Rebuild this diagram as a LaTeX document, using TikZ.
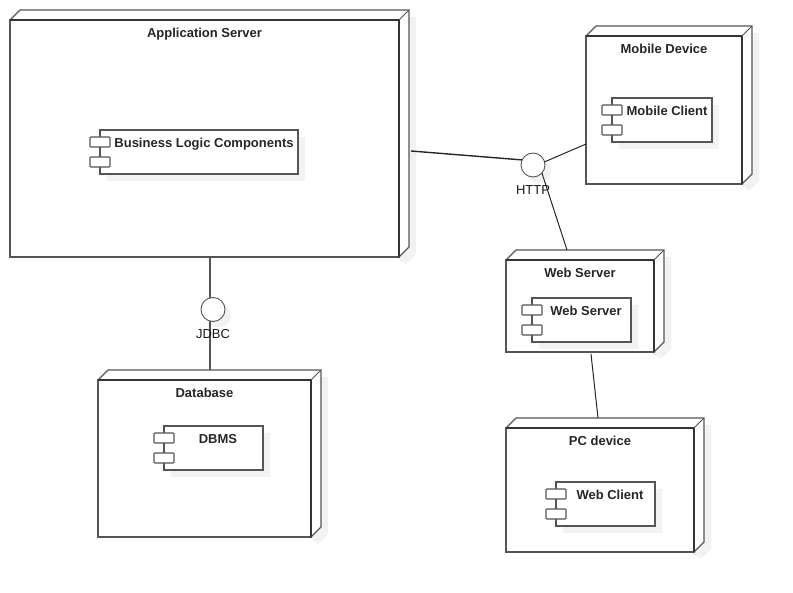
\documentclass[tikz,border=0pt]{standalone}
\usepackage{fontspec}
\setmainfont{Liberation Sans}
\usetikzlibrary{positioning}
\usetikzlibrary{calc}
\definecolor{shadowgray}{HTML}{F2F2F2}
\definecolor{linegray}{HTML}{555555}
\tikzset{
 edge/.style={draw=linegray, line width=1.2pt},
 conn/.style={draw=black!85, line width=1pt},
 title/.style={font=\bfseries\fontsize{13}{15}\selectfont, text=black!85, inner sep=0pt, anchor=base},
 plain/.style={font=\fontsize{13}{15}\selectfont, text=black!90, inner sep=0pt, anchor=base},
 devbox/.style={edge, fill=white, inner sep=0pt, outer sep=0pt},
 iface/.style={circle, draw=linegray, line width=0.9pt, fill=white, minimum size=24pt, inner sep=0pt, outer sep=0pt},
}
\begin{document}
\begin{tikzpicture}[x=1pt, y=-1pt]
 \useasboundingbox (0,0) rectangle (793,593);

 %devices
 \foreach \xa/\ya/\xb/\yb/\name/\label in {10/20/399/257/appsrv/Application Server, 586/36/742/184/mobile/Mobile Device, 506/260/654/352/websrv/Web Server, 98/380/311/537/database/Database, 506/428/694/552/pcdevice/PC device} {
   \fill[shadowgray] (\xa+7,\ya+7) -- (\xa+17,\ya-3) -- (\xb+17,\ya-3) -- (\xb+17,\yb-3) -- (\xb+7,\yb+7) -- cycle;
   \draw[edge, fill=white] (\xa,\ya) -- (\xa+10,\ya-10) -- (\xb+10,\ya-10) -- (\xb+10,\yb-10) -- (\xb,\yb) -- cycle;
   \draw[edge, line width=1pt] (\xb,\ya) -- (\xb+10,\ya-10);
   \node[devbox, draw, minimum width=\xb-\xa, minimum height=\yb-\ya] (\name) at ({(\xa+\xb)/2},{(\ya+\yb)/2}) {};
   \draw[draw=black!80, line width=1.4pt] (\name.north west) -- (\name.north east);
   \draw[draw=black!80, line width=1.4pt] (\name.north east) -- (\name.south east);
   \node[title] (\name-title) at ({(\xa+\xb)/2},\ya+18) {\label};
 }

 %components
 \foreach \xa/\ya/\xb/\tx/\name/\label in {100/130/298/204/blc/Business Logic Components, 612/98/712/667/mclient/Mobile Client, 532/298/631/586/wsrv/Web Server, 164/426/263/218/dbms/DBMS, 556/482/655/610/wclient/Web Client} {
   \fill[shadowgray] (\xa+7,\ya+7) rectangle (\xb+7,\ya+51);
   \node[devbox, draw, minimum width=\xb-\xa, minimum height=44] (\name) at ({(\xa+\xb)/2},\ya+22) {};
   \draw[edge, fill=white, rounded corners=1] (\xa-10,\ya+7) rectangle (\xa+10,\ya+17);
   \draw[edge, fill=white, rounded corners=1] (\xa-10,\ya+27) rectangle (\xa+10,\ya+37);
   \node[title] (\name-title) at (\tx,\ya+18) {\label};
 }

 %interfaces
 \foreach \cx/\cy/\name in {533/165/http, 213/309.5/jdbc} {
   \fill[shadowgray] (\cx+6,\cy+6) circle (12);
 }
 \coordinate (appjdbc) at (210,258);
 \coordinate (dbjdbc) at (210,370);
 \coordinate (apphttp) at (411,151);
 \coordinate (mobhttp) at (586,144);
 \coordinate (webhttp) at (567,250);
 \coordinate (webpc) at (591,354);
 \coordinate (pcweb) at (598,418);

 \draw[edge] (appjdbc) -- (dbjdbc);
 \node[iface] (http) at (533,165) {};
 \node[iface] (jdbc) at (213,309.5) {};
 \draw[conn, line width=1.4pt] (apphttp) -- (http.155);
 \draw[conn] (mobhttp) -- (http.15);
 \draw[conn] (webhttp) -- (http.-42);
 \draw[conn] (webpc) -- (pcweb);

 \node[plain] (http-label) at (533,195) {HTTP};
 \node[plain] (jdbc-label) at (213,339) {JDBC};

\end{tikzpicture}
\end{document}
